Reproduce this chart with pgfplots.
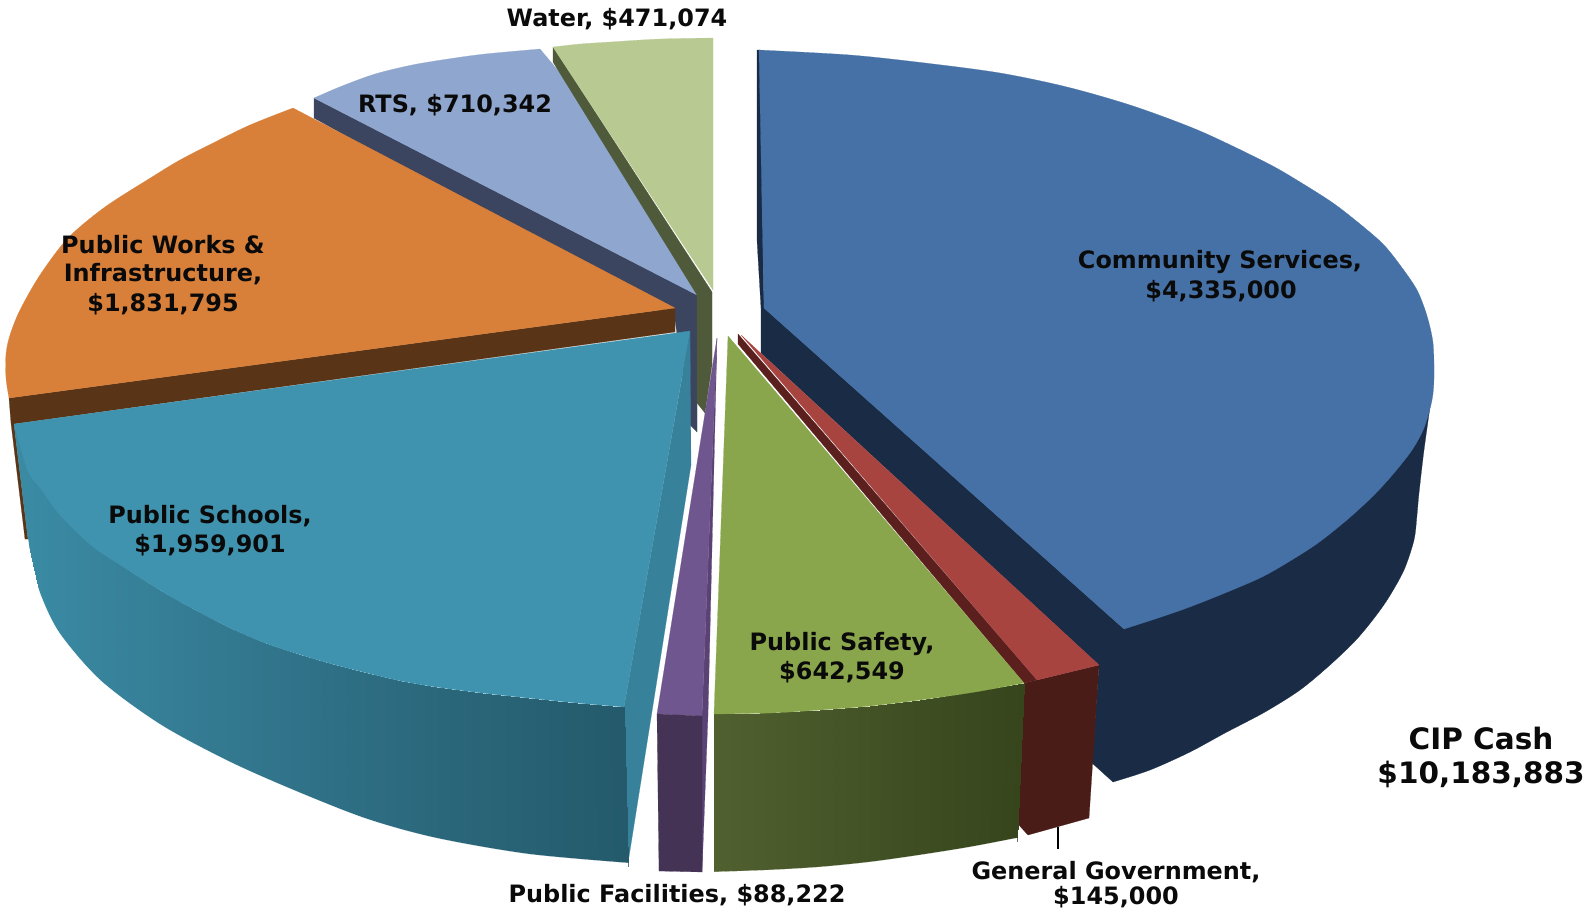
\documentclass[border=0pt]{standalone}
\usepackage{pgfplots}
\pgfplotsset{compat=1.18}
\usepackage{fontspec}
\setmainfont{DejaVu Sans}
\definecolor{comtop}{HTML}{4671A6}
\definecolor{comwall}{HTML}{1A2C45}
\definecolor{gentop}{HTML}{A84440}
\definecolor{genwall}{HTML}{4A1C18}
\definecolor{gendark}{HTML}{5B1F1E}
\definecolor{saftop}{HTML}{8AA64C}
\definecolor{factop}{HTML}{70568F}
\definecolor{facside}{HTML}{5A4275}
\definecolor{facwall}{HTML}{443355}
\definecolor{schtop}{HTML}{4093AE}
\definecolor{schside}{HTML}{38819B}
\definecolor{schleft}{HTML}{3A8AA3}
\definecolor{wrktop}{HTML}{D8803A}
\definecolor{wrkwall}{HTML}{5A3416}
\definecolor{rtstop}{HTML}{8FA6CE}
\definecolor{rtswall}{HTML}{3B4560}
\definecolor{wattop}{HTML}{B8CA92}
\definecolor{watwall}{HTML}{4F5A3A}
\definecolor{lbl}{HTML}{0A0A0A}
\tikzset{
  lbltext/.style={font=\bfseries\fontsize{24}{24}\selectfont, text=lbl, inner sep=0pt, align=center},
  biglbl/.style={font=\bfseries\fontsize{29.6}{30}\selectfont, text=lbl, inner sep=0pt, align=center},
  slice/.style={fill=#1, draw=#1, line width=0.2pt}
}
\pgfplotsset{
  colormap={tealwall}{rgb255=(58,138,163) rgb255=(47,112,134) rgb255=(36,90,107)},
  colormap={olivewall}{rgb255=(80,96,47) rgb255=(54,69,28)},
  wallshade/.style={patch, patch type=rectangle, shader=interp, point meta=explicit}
}
\begin{document}
\begin{tikzpicture}
\begin{axis}[
  at={(0,0)}, anchor=south west, scale only axis,
  width=1587bp, height=910bp,
  xmin=0, xmax=1587, ymin=0, ymax=910, y dir=reverse,
  hide axis, clip=false,
  point meta min=0, point meta max=1
]
% RTS
\addplot[slice=rtswall] coordinates {(314,98)(314,118)(675,320)(690,425)(697,432)(697,295)} -- cycle;
\addplot[slice=rtstop, smooth] coordinates {(314,98)(342,86)(375,74)(412,65)(448,59)(485,54)(540,49)} -- (axis cs:566,80) -- (axis cs:697,295) -- cycle;
% Water: side face and top
\addplot[slice=watwall] coordinates {(553,47)(553,62)(697,295)(697,403)(705,413)(712,365)(712,292)} -- cycle;
\addplot[slice=wattop, smooth] coordinates {(553,47)(580,44)(610,42)(660,39)(713,38)} -- (axis cs:713,290) -- cycle;
% Public Works & Infrastructure
\addplot[slice=wrkwall] coordinates {(9,398)(11,423)(25,539)(28,539)(14,424)(675,332)(675,308)} -- cycle;
\addplot[slice=wrktop, smooth] coordinates {(293,108)(250,125)(213,143)(180,160)(152,177)(105,207)(68,238)(40,275)(20,310)(10,335)(6,354)(6,378)(9,398)} -- (axis cs:675,308) -- cycle;
% Community Services: wall, then top
\addplot[slice=comwall, smooth] coordinates {(1113,782)(1150,770)(1190,752)(1225,733)(1265,712)(1300,690)(1330,665)(1356,640)(1375,617)(1389,597)(1404,570)(1414,540)(1417,515)(1419,493)(1424,450)(1431,400)} -- (axis cs:1124,629) -- (axis cs:764,308) -- (axis cs:760,50) -- (axis cs:757,50) -- (axis cs:757,240) -- (axis cs:761,308) -- (axis cs:761,353) -- (axis cs:1099,665) -- (axis cs:1092,763) -- cycle;
\addplot[slice=comtop, smooth] coordinates {(759,50)(850,55)(925,63)(1000,73)(1067,87)(1133,106)(1200,131)(1267,163)(1300,182)(1333,203)(1360,224)(1383,244)(1400,265)(1417,290)(1427,316)(1433,343)(1434,377)(1432,400)(1424,428)(1412,450)(1394,473)(1374,495)(1348,519)(1318,543)(1290,561)(1262,577)(1225,593)(1187,608)(1155,619)(1124,629)} -- (axis cs:764,308) -- cycle;
% General Government
\addplot[slice=genwall] coordinates {(1024,683)(1037,680)(1099,665)(1089,818)(1028,835)(1017,823)} -- cycle;
\addplot[slice=gendark] coordinates {(738,334)(1037,680)(1024,683)(738,344)} -- cycle;
\addplot[slice=gentop] coordinates {(741,335)(1099,665)(1037,680)} -- cycle;
\addplot[black, line width=1.2pt] coordinates {(1058,827)(1058,849)};
% Public Safety: shaded front, rounded lower rim, top
\addplot[wallshade, colormap name=olivewall] table[meta=c] {
x y c
714 714 0.00
760 713 0.15
760 873 0.15
714 875 0.00
760 713 0.15
820 710 0.35
820 870 0.35
760 873 0.15
820 710 0.35
870 706 0.50
870 865 0.50
820 870 0.35
870 706 0.50
920 700 0.68
920 858 0.68
870 865 0.50
920 700 0.68
970 692 0.84
970 850 0.84
920 858 0.68
970 692 0.84
1024 683 1.00
1017 841 1.00
970 850 0.84
};
\addplot[fill=white, draw=white, line width=0.2pt, smooth] coordinates {(714,872)(770,870)(820,867)(870,862)(920,855)(970,847)(1017,838)} -- (axis cs:1017,900) -- (axis cs:714,900) -- cycle;
\addplot[slice=saftop, smooth] coordinates {(1024,683)(975,692)(920,700)(870,706)(820,710)(770,713)(714,714)} -- (axis cs:728,336) -- cycle;
% Public Facilities
\addplot[slice=facside] coordinates {(717,338)(708,715)(702,872)(702,716)} -- cycle;
\addplot[slice=factop] coordinates {(717,338)(702,716)(657,714)} -- cycle;
\addplot[slice=facwall] coordinates {(657,714)(702,716)(702,872)(659,871)} -- cycle;
% Public Schools: right face, shaded rim, rounded lower rim, top
\addplot[slice=schside] coordinates {(690,332)(691,465)(628,863)(624,707)} -- cycle;
\addplot[slice=schleft] coordinates {(14,424)(28,471)(28,539)} -- cycle;
\addplot[wallshade, colormap name=tealwall] table[meta=c] {
x y c
28 471 0.00
41 489 0.02
41 599 0.02
28 542 0.00
41 489 0.02
60 515 0.05
60 637 0.05
41 599 0.02
60 515 0.05
92 546 0.11
92 675 0.11
60 637 0.05
92 546 0.11
125 568 0.16
125 702 0.16
92 675 0.11
125 568 0.16
161 591 0.22
161 728 0.22
125 702 0.16
161 591 0.22
195 610 0.28
195 747 0.28
161 728 0.22
195 610 0.28
230 628 0.34
230 765 0.34
195 747 0.28
230 628 0.34
265 643 0.40
265 781 0.40
230 765 0.34
265 643 0.40
298 654 0.45
298 795 0.45
265 781 0.40
298 654 0.45
332 664 0.51
332 809 0.51
298 795 0.45
332 664 0.51
367 673 0.57
367 822 0.57
332 809 0.51
367 673 0.57
401 681 0.63
401 833 0.63
367 822 0.57
401 681 0.63
436 687 0.69
436 843 0.69
401 833 0.63
436 687 0.69
482 693 0.77
482 851 0.77
436 843 0.69
482 693 0.77
528 698 0.84
528 858 0.84
482 851 0.77
528 698 0.84
577 703 0.92
577 863 0.92
528 858 0.84
577 703 0.92
624 707 1.00
628 866 1.00
577 863 0.92
};
\addplot[fill=white, draw=white, line width=0.2pt, smooth] coordinates {(28,539)(32,564)(41,596)(60,634)(101,681)(161,725)(230,762)(298,792)(367,819)(436,838)(528,854)(628,863)} -- (axis cs:628,900) -- (axis cs:28,900) -- cycle;
\addplot[slice=schtop, smooth] coordinates {(624,707)(577,703)(528,698)(482,693)(436,687)(401,681)(367,673)(332,664)(298,654)(265,643)(230,628)(195,610)(161,591)(125,568)(92,546)(60,515)(41,489)(28,471)(14,424)} -- (axis cs:690,331) -- cycle;
% Labels
\node[lbltext] at (axis cs:1220,262) {Community Services,};
\node[lbltext] at (axis cs:1221,291) {\$4,335,000};
\node[lbltext] at (axis cs:163,245) {Public Works \&};
\node[lbltext] at (axis cs:163,274) {Infrastructure,};
\node[lbltext] at (axis cs:163,304) {\$1,831,795};
\node[lbltext] at (axis cs:210,516) {Public Schools,};
\node[lbltext] at (axis cs:210,545) {\$1,959,901};
\node[lbltext] at (axis cs:455,105) {RTS, \$710,342};
\node[lbltext] at (axis cs:617,19) {Water, \$471,074};
\node[lbltext] at (axis cs:842,644) {Public Safety,};
\node[lbltext] at (axis cs:842,672) {\$642,549};
\node[lbltext] at (axis cs:677,895) {Public Facilities, \$88,222};
\node[lbltext] at (axis cs:1116,872) {General Government,};
\node[lbltext] at (axis cs:1116,897) {\$145,000};
\node[biglbl] at (axis cs:1481,738) {CIP Cash};
\node[biglbl] at (axis cs:1481,774) {\$10,183,883};
\end{axis}
\pgfresetboundingbox
\useasboundingbox (0,0) rectangle (1587bp,910bp);
\end{tikzpicture}
\end{document}
